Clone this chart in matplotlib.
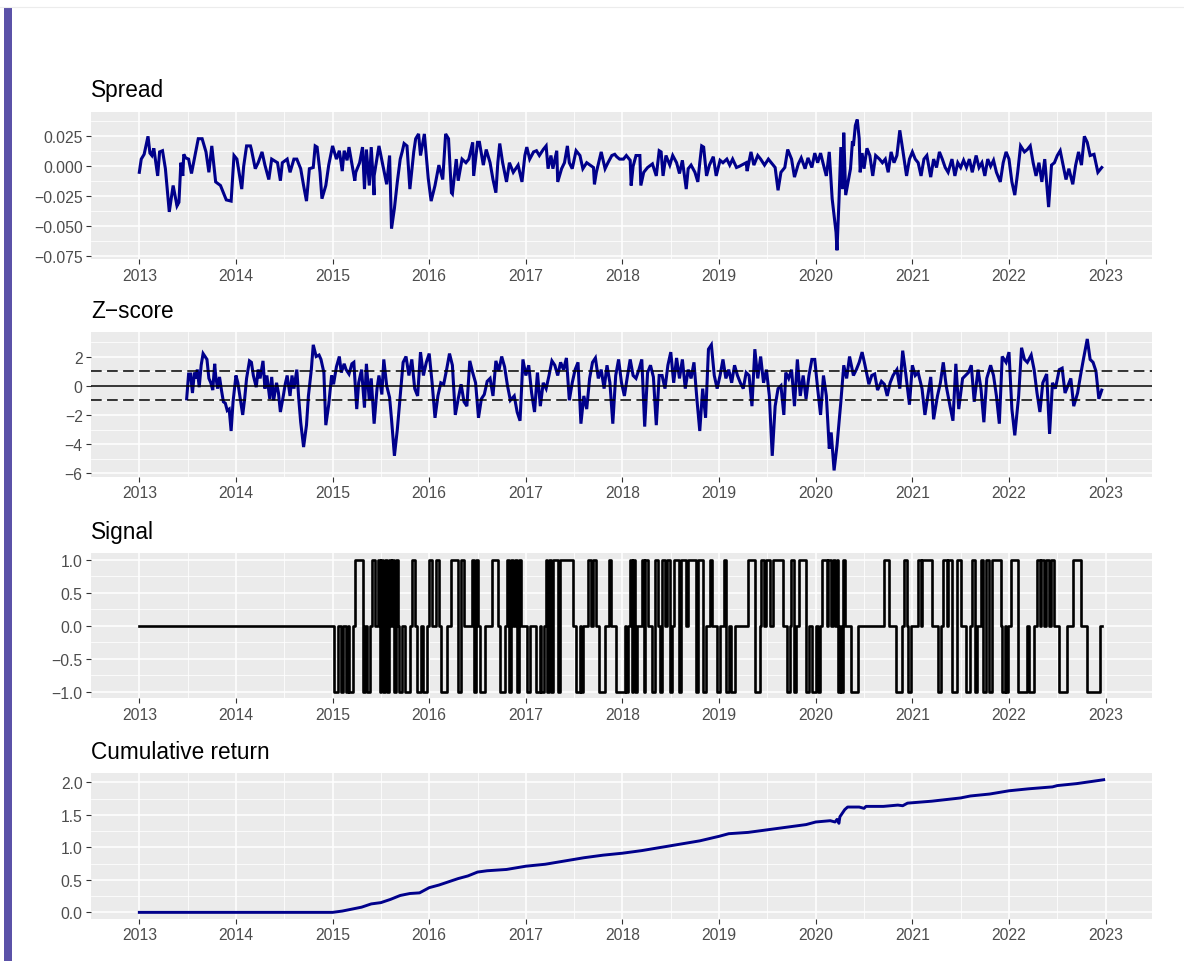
import numpy as np
import matplotlib.pyplot as plt
import matplotlib.ticker as ticker
from matplotlib.patches import Rectangle
from matplotlib.lines import Line2D

plt.rcParams['font.family'] = ['Liberation Sans', 'DejaVu Sans']

years = list(range(2013, 2024))

# spread (decimal year, value)
spread_t = [2013.00, 2013.02, 2013.05, 2013.09, 2013.11, 2013.13, 2013.15, 2013.19, 2013.21, 2013.24, 2013.27,
            2013.31, 2013.35, 2013.39, 2013.41, 2013.43, 2013.45, 2013.46, 2013.48, 2013.51, 2013.54, 2013.61,
            2013.65, 2013.69, 2013.72, 2013.75, 2013.79, 2013.84, 2013.90, 2013.95, 2013.98, 2014.01, 2014.06,
            2014.08, 2014.11, 2014.15, 2014.16, 2014.20, 2014.23, 2014.27, 2014.30, 2014.34, 2014.37, 2014.43,
            2014.46, 2014.48, 2014.53, 2014.56, 2014.60, 2014.63, 2014.67, 2014.70, 2014.73, 2014.76, 2014.80,
            2014.82, 2014.84, 2014.87, 2014.89, 2014.93, 2014.96, 2015.00, 2015.04, 2015.07, 2015.10, 2015.12,
            2015.15, 2015.17, 2015.23, 2015.24, 2015.28, 2015.31, 2015.33, 2015.35, 2015.38, 2015.40, 2015.43,
            2015.43, 2015.48, 2015.55, 2015.56, 2015.59, 2015.61, 2015.64, 2015.67, 2015.70, 2015.72, 2015.74,
            2015.77, 2015.80, 2015.84, 2015.86, 2015.89, 2015.91, 2015.95, 2015.99, 2016.02, 2016.06, 2016.10,
            2016.14, 2016.17, 2016.20, 2016.23, 2016.24, 2016.28, 2016.30, 2016.34, 2016.38, 2016.41, 2016.45,
            2016.46, 2016.50, 2016.52, 2016.56, 2016.59, 2016.63, 2016.66, 2016.69, 2016.71, 2016.73, 2016.76,
            2016.80, 2016.83, 2016.87, 2016.92, 2016.96, 2016.99, 2017.01, 2017.04, 2017.08, 2017.11, 2017.14,
            2017.18, 2017.21, 2017.23, 2017.26, 2017.28, 2017.32, 2017.33, 2017.37, 2017.40, 2017.43, 2017.45,
            2017.48, 2017.52, 2017.56, 2017.59, 2017.63, 2017.70, 2017.71, 2017.73, 2017.78, 2017.82, 2017.85,
            2017.89, 2017.92, 2017.94, 2017.97, 2018.01, 2018.04, 2018.08, 2018.09, 2018.11, 2018.14, 2018.18,
            2018.19, 2018.22, 2018.26, 2018.31, 2018.35, 2018.38, 2018.40, 2018.42, 2018.45, 2018.49, 2018.52,
            2018.56, 2018.59, 2018.62, 2018.66, 2018.68, 2018.71, 2018.75, 2018.78, 2018.80, 2018.82, 2018.84,
            2018.87, 2018.90, 2018.94, 2018.97, 2019.01, 2019.04, 2019.08, 2019.11, 2019.14, 2019.18, 2019.21,
            2019.28, 2019.29, 2019.33, 2019.36, 2019.40, 2019.43, 2019.47, 2019.51, 2019.58, 2019.61, 2019.64,
            2019.68, 2019.71, 2019.75, 2019.78, 2019.82, 2019.85, 2019.89, 2019.92, 2019.96, 2019.99, 2020.02,
            2020.05, 2020.09, 2020.11, 2020.14, 2020.17, 2020.19, 2020.21, 2020.22, 2020.24, 2020.26, 2020.28,
            2020.29, 2020.31, 2020.34, 2020.36, 2020.38, 2020.39, 2020.41, 2020.43, 2020.45, 2020.46, 2020.48,
            2020.50, 2020.53, 2020.56, 2020.59, 2020.62, 2020.66, 2020.69, 2020.72, 2020.75, 2020.78, 2020.81,
            2020.84, 2020.87, 2020.90, 2020.94, 2020.97, 2021.00, 2021.03, 2021.06, 2021.09, 2021.12, 2021.15,
            2021.19, 2021.22, 2021.25, 2021.28, 2021.31, 2021.34, 2021.37, 2021.41, 2021.44, 2021.47, 2021.50,
            2021.53, 2021.56, 2021.59, 2021.62, 2021.66, 2021.69, 2021.72, 2021.75, 2021.78, 2021.81, 2021.84,
            2021.87, 2021.91, 2021.94, 2021.97, 2022.00, 2022.03, 2022.06, 2022.09, 2022.12, 2022.16, 2022.19,
            2022.22, 2022.25, 2022.28, 2022.31, 2022.34, 2022.37, 2022.41, 2022.44, 2022.47, 2022.50, 2022.53,
            2022.56, 2022.59, 2022.62, 2022.66, 2022.69, 2022.72, 2022.75, 2022.78, 2022.81, 2022.84, 2022.88,
            2022.92, 2022.96]
spread_v = [-0.005, 0.006, 0.010, 0.025, 0.011, 0.009, 0.015, -0.008, 0.012, 0.013, -0.002,
            -0.038, -0.016, -0.033, -0.030, 0.003, -0.008, 0.010, 0.007, 0.006, -0.006, 0.023,
            0.023, 0.012, -0.005, 0.017, -0.013, -0.016, -0.028, -0.029, 0.009, 0.006, -0.019,
            0.000, 0.017, 0.017, 0.014, -0.002, 0.003, 0.012, 0.001, -0.011, 0.006, 0.003,
            -0.012, 0.003, 0.006, -0.005, 0.006, 0.006, -0.002, -0.016, -0.029, -0.002, -0.001,
            0.017, 0.016, -0.005, -0.027, -0.016, 0.001, 0.017, 0.006, 0.013, -0.004, 0.013,
            0.005, 0.016, -0.012, -0.005, 0.003, 0.016, -0.019, 0.014, -0.016, 0.016, -0.024,
            -0.008, 0.017, -0.011, -0.015, 0.009, -0.052, -0.035, -0.013, 0.006, 0.012, 0.019,
            0.017, -0.019, 0.012, 0.023, 0.027, 0.009, 0.027, -0.010, -0.029, -0.016, 0.001,
            -0.011, 0.027, 0.023, -0.022, -0.023, 0.006, -0.012, 0.006, 0.003, 0.006, 0.020,
            -0.008, 0.020, 0.020, 0.001, 0.014, 0.003, -0.011, -0.022, 0.003, 0.019, 0.003,
            -0.013, 0.003, -0.005, 0.001, -0.013, 0.009, 0.016, 0.006, 0.012, 0.013, 0.009,
            0.014, 0.017, -0.002, 0.009, -0.002, 0.013, -0.013, -0.002, 0.003, 0.017, 0.003,
            -0.002, 0.013, 0.009, -0.002, 0.003, -0.001, -0.015, -0.005, 0.012, -0.002, 0.003,
            0.009, 0.010, 0.008, 0.006, 0.006, 0.009, 0.005, -0.016, 0.000, 0.009, 0.009,
            -0.016, -0.005, -0.001, 0.002, -0.008, 0.013, 0.012, -0.008, 0.009, 0.001, 0.009,
            0.003, -0.006, 0.005, -0.019, -0.002, 0.001, -0.005, -0.013, 0.003, 0.017, 0.016,
            -0.008, 0.001, 0.008, -0.008, 0.005, 0.003, 0.006, 0.001, 0.006, -0.001, 0.000,
            0.003, -0.004, 0.012, 0.001, 0.009, 0.006, 0.001, 0.006, -0.001, -0.020, -0.005,
            -0.001, 0.014, 0.006, -0.009, 0.002, 0.007, -0.002, 0.007, -0.001, 0.011, 0.003,
            0.011, -0.002, -0.008, 0.012, -0.027, -0.041, -0.055, -0.070, -0.030, 0.016, -0.019,
            0.028, -0.024, -0.011, -0.002, 0.021, 0.017, 0.034, 0.039, 0.023, -0.005, 0.011,
            -0.002, 0.015, 0.009, -0.008, 0.009, 0.006, 0.003, 0.006, -0.005, 0.012, 0.003,
            0.009, 0.030, 0.014, -0.008, 0.006, 0.012, 0.006, 0.003, -0.008, 0.006, 0.009,
            -0.009, 0.006, -0.001, 0.012, 0.006, -0.001, -0.005, 0.006, -0.008, 0.003, -0.001,
            0.005, -0.001, 0.006, -0.005, 0.009, -0.001, 0.003, -0.008, 0.006, 0.000, 0.005,
            -0.005, -0.013, 0.003, 0.012, 0.006, -0.013, -0.024, -0.005, 0.017, 0.012, 0.014,
            0.017, 0.003, -0.008, 0.003, -0.013, 0.006, -0.034, 0.001, 0.003, 0.009, 0.013,
            0.001, -0.011, -0.002, -0.015, 0.001, 0.012, 0.001, 0.025, 0.020, 0.009, 0.010,
            -0.005, -0.001]

# z-score (decimal year, value)
z_t = [2013.49, 2013.51, 2013.53, 2013.55, 2013.57, 2013.59, 2013.60, 2013.62, 2013.64, 2013.66, 2013.68,
       2013.70, 2013.72, 2013.74, 2013.76, 2013.78, 2013.79, 2013.81, 2013.83, 2013.85, 2013.87, 2013.89,
       2013.91, 2013.93, 2013.95, 2013.97, 2014.00, 2014.02, 2014.04, 2014.07, 2014.09, 2014.11, 2014.14,
       2014.16, 2014.18, 2014.21, 2014.23, 2014.25, 2014.28, 2014.30, 2014.32, 2014.35, 2014.37, 2014.39,
       2014.42, 2014.44, 2014.46, 2014.49, 2014.51, 2014.53, 2014.56, 2014.58, 2014.60, 2014.63, 2014.65,
       2014.67, 2014.70, 2014.73, 2014.75, 2014.78, 2014.80, 2014.83, 2014.86, 2014.88, 2014.91, 2014.93,
       2014.96, 2014.99, 2015.01, 2015.04, 2015.07, 2015.09, 2015.12, 2015.14, 2015.17, 2015.20, 2015.22,
       2015.25, 2015.27, 2015.30, 2015.33, 2015.35, 2015.38, 2015.40, 2015.43, 2015.46, 2015.48, 2015.51,
       2015.53, 2015.56, 2015.59, 2015.61, 2015.64, 2015.67, 2015.70, 2015.73, 2015.76, 2015.79, 2015.82,
       2015.85, 2015.88, 2015.91, 2015.94, 2015.97, 2016.00, 2016.03, 2016.06, 2016.09, 2016.12, 2016.15,
       2016.18, 2016.21, 2016.24, 2016.27, 2016.30, 2016.33, 2016.36, 2016.39, 2016.42, 2016.45, 2016.48,
       2016.51, 2016.54, 2016.57, 2016.60, 2016.63, 2016.66, 2016.69, 2016.72, 2016.75, 2016.78, 2016.81,
       2016.84, 2016.88, 2016.91, 2016.94, 2016.97, 2017.00, 2017.03, 2017.06, 2017.09, 2017.12, 2017.15,
       2017.18, 2017.21, 2017.24, 2017.27, 2017.30, 2017.33, 2017.36, 2017.39, 2017.42, 2017.45, 2017.48,
       2017.51, 2017.54, 2017.57, 2017.60, 2017.63, 2017.66, 2017.69, 2017.72, 2017.75, 2017.78, 2017.81,
       2017.84, 2017.87, 2017.90, 2017.93, 2017.96, 2017.99, 2018.02, 2018.05, 2018.08, 2018.11, 2018.14,
       2018.17, 2018.20, 2018.23, 2018.26, 2018.29, 2018.32, 2018.35, 2018.38, 2018.41, 2018.44, 2018.47,
       2018.50, 2018.53, 2018.56, 2018.59, 2018.62, 2018.65, 2018.68, 2018.71, 2018.74, 2018.77, 2018.80,
       2018.83, 2018.86, 2018.89, 2018.92, 2018.95, 2018.98, 2019.01, 2019.04, 2019.07, 2019.10, 2019.13,
       2019.16, 2019.19, 2019.22, 2019.25, 2019.28, 2019.31, 2019.34, 2019.37, 2019.40, 2019.43, 2019.46,
       2019.49, 2019.52, 2019.55, 2019.58, 2019.61, 2019.64, 2019.67, 2019.69, 2019.72, 2019.75, 2019.78,
       2019.81, 2019.84, 2019.87, 2019.90, 2019.93, 2019.96, 2019.99, 2020.02, 2020.05, 2020.08, 2020.11,
       2020.14, 2020.16, 2020.19, 2020.22, 2020.26, 2020.29, 2020.32, 2020.35, 2020.39, 2020.42, 2020.45,
       2020.48, 2020.51, 2020.55, 2020.58, 2020.61, 2020.64, 2020.68, 2020.71, 2020.74, 2020.77, 2020.80,
       2020.84, 2020.87, 2020.90, 2020.93, 2020.97, 2021.00, 2021.03, 2021.06, 2021.10, 2021.13, 2021.16,
       2021.19, 2021.22, 2021.26, 2021.29, 2021.32, 2021.35, 2021.39, 2021.42, 2021.45, 2021.48, 2021.52,
       2021.55, 2021.58, 2021.61, 2021.64, 2021.68, 2021.71, 2021.74, 2021.77, 2021.81, 2021.84, 2021.87,
       2021.90, 2021.93, 2021.97, 2022.00, 2022.03, 2022.06, 2022.10, 2022.13, 2022.16, 2022.19, 2022.23,
       2022.26, 2022.29, 2022.32, 2022.35, 2022.39, 2022.42, 2022.45, 2022.48, 2022.52, 2022.55, 2022.58,
       2022.61, 2022.64, 2022.67, 2022.71, 2022.74, 2022.77, 2022.81, 2022.84, 2022.87, 2022.90, 2022.93,
       2022.96]
z_v = [-0.9, 0.8, 0.8, -0.5, 0.9, 0.5, 1.1, -0.1, 1.4, 2.2, 2.0,
       1.8, 0.5, 0.2, -0.3, 1.5, 0.7, -0.2, 0.6, -0.3, -1.1, -1.2,
       -1.7, -1.6, -3.1, -1.1, 0.7, 0.2, -0.7, -2.0, -0.9, 0.5, 1.7,
       1.6, 0.7, -0.1, 1.1, 0.5, 1.7, -0.2, 0.7, -0.9, 0.6, -1.0,
       0.2, -0.5, -1.8, -0.7, 0.1, 0.7, -0.7, 0.7, -0.2, 1.1, -0.9,
       -2.5, -4.2, -2.7, -0.7, 1.1, 2.8, 2.0, 2.1, 1.8, 0.9, -2.7,
       -1.3, 0.7, 0.1, 1.3, 2.0, 0.9, 1.5, 1.1, 0.8, 1.5, 1.6,
       -1.6, 0.2, 1.1, -1.5, 1.5, -1.0, 0.5, -2.6, -0.2, 0.7, -0.6,
       1.8, 0.0, -0.8, -2.3, -4.8, -3.0, -0.7, 1.6, 2.0, 0.7, 1.8,
       -0.2, -0.7, 2.3, 0.7, 1.6, 2.2, 0.2, -2.2, -0.7, 0.2, 0.1,
       1.1, 2.2, 1.4, -2.0, -0.9, 0.1, -1.1, -1.4, 1.7, 0.9, 0.2,
       -2.2, -0.9, -0.6, 0.3, 0.5, -0.7, 1.7, 1.0, 2.0, 1.3, 0.0,
       -1.0, -0.7, -1.8, -2.4, 1.8, 0.7, 1.4, -0.5, -1.8, 0.9, -1.4,
       0.2, -0.2, 0.7, 1.7, 1.4, 0.7, 1.6, 1.1, 1.9, -1.0, 0.2,
       1.1, 1.6, -2.6, -0.7, -1.6, 0.5, 1.6, 1.9, 0.5, 1.1, -0.2,
       1.4, 0.2, -2.6, 0.7, 1.8, 0.2, -0.7, 0.6, 1.8, 0.7, 0.5,
       1.1, 1.8, -2.8, 0.9, 1.4, 0.6, -2.7, 0.7, 0.7, -0.2, 1.4,
       2.3, 0.2, 1.9, 0.5, 1.8, -0.2, 1.1, 0.5, 1.6, -0.9, -3.1,
       -0.2, -2.2, 2.5, 2.8, 0.7, -0.2, 0.7, 1.8, 0.5, 1.1, 0.2,
       1.4, 0.7, 0.2, -0.2, 0.9, 0.7, -1.4, 2.5, 0.5, 2.0, 0.2,
       1.1, -0.7, -4.8, -1.4, -0.2, 0.0, -2.0, 0.9, 0.5, 1.1, -1.4,
       1.8, -0.7, 0.7, -0.9, 0.7, 1.8, 1.8, -0.2, -2.0, 0.7, -0.7,
       -4.3, -3.2, -5.8, -4.1, -1.1, 1.4, 0.5, 2.0, 0.7, 1.1, 1.6,
       2.3, 1.4, 0.1, 0.7, 0.8, -0.3, 0.3, 0.1, -0.7, 0.2, 0.7,
       1.1, -0.2, 2.4, 0.9, -1.3, 1.4, 0.7, 0.9, -0.2, -2.0, -0.7,
       0.6, -2.3, -0.7, 0.2, 1.6, 0.0, -1.4, -2.4, 1.5, -1.6, 0.5,
       0.7, 0.9, 1.4, -1.1, 1.1, -0.2, -2.5, 0.5, 1.4, 0.7, -0.7,
       -2.6, 2.0, 1.6, 2.3, -1.6, -3.4, -0.7, 2.6, 1.8, 1.6, 2.1,
       1.1, -0.5, -1.8, 0.2, 0.8, -3.3, 0.2, -0.2, 1.1, 1.2, -0.5,
       0.0, 0.5, -1.4, -0.5, 0.7, 1.8, 3.2, 1.8, 1.6, 1.0, -0.9,
       -0.3]

# trading signal, change points (decimal year, new position)
signal_t = [2013.00, 2015.014, 2015.059, 2015.083, 2015.110, 2015.134, 2015.155, 2015.172, 2015.207, 2015.234,
            2015.310, 2015.338, 2015.359, 2015.386, 2015.407, 2015.441, 2015.466, 2015.486, 2015.503, 2015.524,
            2015.545, 2015.562, 2015.583, 2015.600, 2015.617, 2015.638, 2015.655, 2015.672, 2015.690, 2015.717,
            2015.748, 2015.800, 2015.821, 2015.855, 2015.876, 2015.917, 2015.938, 2015.972, 2016.000, 2016.034,
            2016.069, 2016.097, 2016.121, 2016.179, 2016.221, 2016.266, 2016.300, 2016.324, 2016.355, 2016.438,
            2016.462, 2016.483, 2016.507, 2016.524, 2016.576, 2016.645, 2016.714, 2016.731, 2016.783, 2016.800,
            2016.824, 2016.845, 2016.869, 2016.886, 2016.910, 2016.931, 2016.955, 2017.014, 2017.041, 2017.110,
            2017.145, 2017.162, 2017.186, 2017.207, 2017.221, 2017.238, 2017.259, 2017.276, 2017.334, 2017.352,
            2017.490, 2017.524, 2017.559, 2017.576, 2017.593, 2017.645, 2017.679, 2017.697, 2017.731, 2017.759,
            2017.817, 2017.862, 2017.886, 2017.938, 2018.024, 2018.041, 2018.062, 2018.079, 2018.097, 2018.114,
            2018.134, 2018.155, 2018.197, 2018.221, 2018.238, 2018.266, 2018.310, 2018.334, 2018.369, 2018.393,
            2018.414, 2018.438, 2018.462, 2018.490, 2018.514, 2018.531, 2018.586, 2018.603, 2018.662, 2018.679,
            2018.766, 2018.783, 2018.834, 2018.869, 2018.903, 2018.931, 2018.979, 2019.014, 2019.048, 2019.069,
            2019.103, 2019.128, 2019.162, 2019.300, 2019.369, 2019.421, 2019.438, 2019.462, 2019.490, 2019.524,
            2019.559, 2019.662, 2019.703, 2019.731, 2019.748, 2019.772, 2019.797, 2019.824, 2019.900, 2019.934,
            2019.962, 2020.000, 2020.020, 2020.045, 2020.069, 2020.114, 2020.128, 2020.162, 2020.179, 2020.200,
            2020.217, 2020.234, 2020.252, 2020.266, 2020.286, 2020.303, 2020.362, 2020.441, 2020.707, 2020.759,
            2020.828, 2020.897, 2020.914, 2020.941, 2020.955, 2020.983, 2021.059, 2021.086, 2021.103, 2021.207,
            2021.269, 2021.293, 2021.321, 2021.362, 2021.372, 2021.414, 2021.459, 2021.500, 2021.552, 2021.597,
            2021.621, 2021.645, 2021.672, 2021.707, 2021.734, 2021.759, 2021.793, 2021.828, 2021.914, 2021.931,
            2021.955, 2021.972, 2021.993, 2022.017, 2022.093, 2022.190, 2022.210, 2022.259, 2022.293, 2022.321,
            2022.334, 2022.362, 2022.379, 2022.414, 2022.431, 2022.466, 2022.517, 2022.597, 2022.666, 2022.741,
            2022.803, 2022.941, 2022.966]
signal_v = [0, -1, 0, -1, 0, -1, 0, -1, 0, 1,
            -1, 0, -1, 0, 1, 0, 1, -1, 1, -1,
            1, -1, 1, 0, 1, -1, 1, 0, -1, 0,
            -1, 0, 1, 0, -1, 0, -1, 0, 1, 0,
            1, 0, -1, 0, 1, 1, -1, 1, 0, 1,
            -1, 1, 0, -1, 0, 1, 0, -1, 0, 1,
            -1, 1, 0, 1, -1, 1, 0, -1, 0, -1,
            0, -1, 0, 1, -1, 1, -1, 1, -1, 1,
            0, -1, 0, -1, 0, 1, 0, 1, 0, -1,
            0, 1, 0, -1, 0, -1, 0, 1, -1, 1,
            -1, 0, 1, -1, 1, 0, -1, 1, 0, -1,
            1, 0, 1, -1, 0, 1, -1, 1, 0, 1,
            -1, 1, -1, 0, 1, 0, -1, 0, 1, -1,
            0, -1, 0, 1, -1, 0, 1, 0, 1, 0,
            1, 0, -1, 0, 1, -1, 0, 1, -1, 0,
            -1, 0, -1, 0, 1, 0, 1, 0, 1, 0,
            1, -1, 0, -1, 1, 0, -1, 0, 1, 0,
            -1, 0, 1, 0, -1, 0, 1, 0, 1, 0,
            -1, 0, 1, 0, 1, -1, 1, 0, -1, 0,
            1, -1, 0, 1, -1, 1, -1, 1, 0, -1,
            0, -1, 0, 1, -1, 0, -1, 0, 1, 0,
            1, 0, 1, 0, 1, 0, -1, 0, 1, 0,
            -1, 0, 0]

# cumulative strategy return
cum_t = [2013.00, 2015.00, 2015.10, 2015.20, 2015.30, 2015.40, 2015.50, 2015.60, 2015.70, 2015.80, 2015.90,
         2016.00, 2016.10, 2016.20, 2016.30, 2016.40, 2016.50, 2016.60, 2016.80, 2017.00, 2017.20, 2017.40,
         2017.60, 2017.80, 2018.00, 2018.20, 2018.40, 2018.60, 2018.80, 2019.00, 2019.10, 2019.30, 2019.50,
         2019.70, 2019.90, 2020.00, 2020.15, 2020.20, 2020.22, 2020.24, 2020.25, 2020.30, 2020.33, 2020.45,
         2020.50, 2020.52, 2020.70, 2020.85, 2020.90, 2020.95, 2021.20, 2021.50, 2021.60, 2021.80, 2022.00,
         2022.20, 2022.45, 2022.50, 2022.70, 2022.98]
cum_v = [0.00, 0.00, 0.02, 0.05, 0.08, 0.13, 0.15, 0.20, 0.26, 0.29, 0.30,
         0.38, 0.42, 0.47, 0.52, 0.56, 0.62, 0.64, 0.66, 0.71, 0.74, 0.79,
         0.84, 0.88, 0.91, 0.95, 1.00, 1.05, 1.10, 1.17, 1.21, 1.23, 1.27,
         1.31, 1.35, 1.39, 1.41, 1.39, 1.43, 1.37, 1.47, 1.58, 1.62, 1.62,
         1.60, 1.63, 1.63, 1.65, 1.64, 1.68, 1.71, 1.76, 1.79, 1.82, 1.87,
         1.90, 1.93, 1.95, 1.98, 2.04]

W, H = 1184, 962
fig = plt.figure(figsize=(W / 100, H / 100), dpi=100)

# card decoration on the left
fig.add_artist(Line2D([0, 1], [1 - 8 / H] * 2, color='#ECECEC', lw=0.8))
fig.add_artist(Rectangle((4 / W, 0), 8 / W, (H - 8) / H, transform=fig.transFigure,
                         color='#5B52A8', lw=0))


def minus(fmt):
    return ticker.FuncFormatter(lambda v, p: (fmt % v).replace('-', '\u2212'))


def panel(top, bottom, title, ylim, yticks, yminor, fmt):
    ax = fig.add_axes([91 / W, 1 - bottom / H, 1061 / W, (bottom - top) / H])
    ax.set_facecolor('#EBEBEB')
    ax.set_xlim(2012.5, 2023.48)
    ax.set_ylim(*ylim)
    ax.set_xticks(years)
    ax.set_xticklabels([str(y) for y in years])
    ax.set_xticks([y + 0.5 for y in years[:-1]], minor=True)
    ax.set_yticks(yticks)
    ax.set_yticks(yminor, minor=True)
    ax.yaxis.set_major_formatter(minus(fmt))
    ax.grid(which='major', color='white', lw=1.1)
    ax.grid(which='minor', color='white', lw=0.55)
    ax.set_axisbelow(True)
    for s in ax.spines.values():
        s.set_visible(False)
    ax.tick_params(which='major', length=3.5, width=0.8, color='#333333',
                   labelcolor='#4D4D4D', labelsize=11.3, pad=2.5)
    ax.tick_params(which='minor', length=0)
    ax.set_title(title, loc='left', fontsize=16.3, pad=11, color='black')
    return ax


ax1 = panel(112.6, 260.4, 'Spread', (-0.0776, 0.0456),
            [-0.075, -0.05, -0.025, 0, 0.025], np.arange(-0.0625, 0.04, 0.025), '%.3f')
ax1.plot(spread_t, spread_v, color='#00008B', lw=2.2, solid_joinstyle='miter')

ax2 = panel(333.4, 478, 'Z\u2212score', (-6.25, 3.65),
            [-6, -4, -2, 0, 2], [-5, -3, -1, 1, 3], '%d')
ax2.plot(z_t, z_v, color='#00008B', lw=2.2, solid_joinstyle='miter')
ax2.axhline(0, color='black', lw=1.1)
ax2.axhline(1, color='black', lw=1.1, dashes=(7, 3.5))
ax2.axhline(-1, color='black', lw=1.1, dashes=(7, 3.5))

ax3 = panel(554, 699.3, 'Signal', (-1.1, 1.1),
            [-1, -0.5, 0, 0.5, 1], [-0.75, -0.25, 0.25, 0.75], '%.1f')
ax3.plot(signal_t, signal_v, color='black', lw=1.9, drawstyle='steps-post')

ax4 = panel(774.1, 920, 'Cumulative return', (-0.102, 2.142),
            [0, 0.5, 1, 1.5, 2], [0.25, 0.75, 1.25, 1.75], '%.1f')
ax4.plot(cum_t, cum_v, color='#00008B', lw=2.1)

fig.savefig('out.png', dpi=100, facecolor='white')
